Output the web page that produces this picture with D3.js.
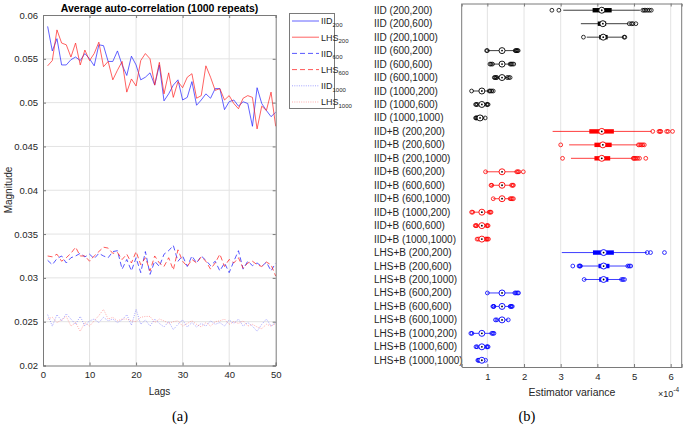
<!DOCTYPE html>
<html><head><meta charset="utf-8">
<script src="https://cdn.jsdelivr.net/npm/d3@7"></script>
<style>body{margin:0;background:#fff}svg{display:block}text{font-family:"Liberation Sans",Arial,sans-serif}</style>
</head><body>
<svg id="c" width="685" height="426"></svg>
<script>
// ---------------- Panel (a) data ----------------
const lags = d3.range(1, 51);
const iid200 = [0.0587,0.0559,0.0573,0.0543,0.0543,0.0549,0.0552,0.0548,0.0556,0.0550,0.0542,0.0566,0.0565,0.0547,0.0547,0.0559,0.0543,0.0531,0.0553,0.0543,0.0526,0.0529,0.0534,0.0520,0.0543,0.0502,0.0510,0.0520,0.0526,0.0503,0.0506,0.0524,0.0497,0.0503,0.0510,0.0505,0.0516,0.0516,0.0492,0.0501,0.0503,0.0496,0.0501,0.0499,0.0473,0.0517,0.0499,0.0491,0.0484,0.0489];
const lhs200 = [0.0542,0.0548,0.0583,0.0568,0.0566,0.0552,0.0568,0.0543,0.0560,0.0548,0.0556,0.0569,0.0541,0.0547,0.0526,0.0537,0.0547,0.0512,0.0527,0.0519,0.0548,0.0556,0.0550,0.0520,0.0546,0.0510,0.0534,0.0506,0.0524,0.0517,0.0529,0.0533,0.0505,0.0508,0.0542,0.0529,0.0514,0.0516,0.0503,0.0508,0.0499,0.0493,0.0505,0.0508,0.0506,0.0470,0.0496,0.0491,0.0512,0.0473];
const iid600 = [0.0320,0.0315,0.0322,0.0325,0.0317,0.0323,0.0325,0.0328,0.0324,0.0327,0.0322,0.0328,0.0325,0.0323,0.0330,0.0331,0.0310,0.0321,0.0308,0.0323,0.0306,0.0330,0.0304,0.0319,0.0313,0.0327,0.0331,0.0337,0.0319,0.0325,0.0313,0.0325,0.0317,0.0325,0.0320,0.0314,0.0319,0.0308,0.0317,0.0306,0.0319,0.0331,0.0310,0.0319,0.0314,0.0317,0.0313,0.0318,0.0308,0.0317];
const lhs600 = [0.0325,0.0324,0.0327,0.0319,0.0323,0.0328,0.0335,0.0325,0.0325,0.0319,0.0325,0.0330,0.0335,0.0334,0.0328,0.0329,0.0321,0.0327,0.0317,0.0330,0.0315,0.0323,0.0308,0.0325,0.0317,0.0313,0.0323,0.0309,0.0332,0.0319,0.0313,0.0321,0.0317,0.0324,0.0319,0.0310,0.0317,0.0327,0.0313,0.0321,0.0317,0.0323,0.0311,0.0317,0.0319,0.0315,0.0313,0.0318,0.0315,0.0302];
const iid1000 = [0.0258,0.0245,0.0258,0.0251,0.0259,0.0253,0.0247,0.0256,0.0245,0.0251,0.0253,0.0249,0.0255,0.0251,0.0253,0.0249,0.0252,0.0258,0.0246,0.0264,0.0247,0.0252,0.0245,0.0253,0.0248,0.0244,0.0250,0.0241,0.0247,0.0252,0.0244,0.0249,0.0244,0.0248,0.0245,0.0251,0.0247,0.0249,0.0245,0.0252,0.0248,0.0253,0.0245,0.0249,0.0245,0.0239,0.0247,0.0253,0.0245,0.0249];
const lhs1000 = [0.0253,0.0255,0.0249,0.0252,0.0256,0.0245,0.0249,0.0239,0.0249,0.0245,0.0251,0.0257,0.0264,0.0253,0.0255,0.0251,0.0253,0.0253,0.0251,0.0250,0.0255,0.0256,0.0256,0.0249,0.0253,0.0251,0.0248,0.0250,0.0251,0.0245,0.0248,0.0251,0.0247,0.0244,0.0249,0.0245,0.0250,0.0251,0.0253,0.0247,0.0250,0.0248,0.0251,0.0245,0.0247,0.0244,0.0242,0.0247,0.0245,0.0248];
const seriesNames = ["IID","LHS","IID","LHS","IID","LHS"];
const seriesSubs = ["200","200","600","600","1000","1000"];
const lagTicks = [0,10,20,30,40,50];
const magTicks = [0.02,0.025,0.03,0.035,0.04,0.045,0.05,0.055,0.06];

// ---------------- Panel (b) data ----------------
const rowLabels = ["IID (200,200)","IID (200,600)","IID (200,1000)","IID (600,200)","IID (600,600)","IID (600,1000)","IID (1000,200)","IID (1000,600)","IID (1000,1000)",
 "IID+B (200,200)","IID+B (200,600)","IID+B (200,1000)","IID+B (600,200)","IID+B (600,600)","IID+B (600,1000)","IID+B (1000,200)","IID+B (600,600)","IID+B (1000,1000)",
 "LHS+B (200,200)","LHS+B (200,600)","LHS+B (200,1000)","LHS+B (600,200)","LHS+B (600,600)","LHS+B (600,1000)","LHS+B (1000,200)","LHS+B (1000,600)","LHS+B (1000,1000)"];
const whiskerLo = [3.07,3.55,3.71,1.00,1.13,1.24,0.60,0.72,0.72, 2.78,3.23,3.28,0.95,1.10,1.16,0.60,0.69,0.74, 3.03,3.50,3.64,1.00,1.16,1.23,0.58,0.69,0.74];
const q1 =        [3.87,4.01,4.05,1.37,1.38,1.38,0.83,0.83,0.78, 3.78,3.92,3.92,1.38,1.38,1.38,0.83,0.83,0.83, 3.88,4.03,4.05,1.38,1.38,1.38,0.83,0.83,0.83];
const medians =   [4.12,4.15,4.16,1.40,1.40,1.40,0.85,0.85,0.80, 4.12,4.15,4.12,1.40,1.40,1.40,0.85,0.85,0.85, 4.17,4.17,4.17,1.40,1.40,1.40,0.85,0.85,0.85];
const q3 =        [4.39,4.24,4.28,1.44,1.42,1.42,0.87,0.87,0.88, 4.45,4.39,4.35,1.42,1.42,1.42,0.87,0.87,0.87, 4.45,4.33,4.30,1.42,1.42,1.42,0.87,0.87,0.87];
const whiskerHi = [5.16,4.85,4.72,1.76,1.62,1.56,1.05,0.98,0.93, 5.48,5.10,4.98,1.80,1.66,1.62,1.08,1.00,0.98, 5.35,4.86,4.68,1.78,1.64,1.57,1.12,1.00,0.95];
const outliers = [
 [2.76,2.95,5.24,5.28,5.32,5.37,5.42,5.47],
 [4.87,4.93,4.97,5.05],
 [3.62,4.73,4.75],
 [0.98,1.00,1.76,1.78,1.80,1.82,1.84],
 [1.07,1.10,1.14,1.62,1.65,1.68,1.72],
 [1.19,1.21,1.24,1.26,1.54,1.58,1.62],
 [0.57,1.05,1.08,1.12,1.16],
 [0.68,0.70,0.73,0.98,1.00,1.02],
 [0.68,0.70,0.72,0.75,0.94],
 [5.51,5.68,5.71,5.73,5.89,5.93,6.05],
 [3.00,5.12,5.16,5.20,5.24,5.28],
 [3.05,4.98,5.00,5.03,5.06,5.10,5.15,5.32],
 [0.95,1.80,1.83,1.86,1.98],
 [1.10,1.12,1.66,1.69,1.71],
 [1.16,1.62,1.65,1.68,1.71],
 [0.57,0.60,1.05,1.08,1.10],
 [0.67,0.69,0.71,0.98,1.00,1.02],
 [0.72,0.76,0.95,0.98,1.00,1.03],
 [5.36,5.45,5.83],
 [3.33,3.50,3.52,3.54,4.83,4.87,4.91],
 [3.64,4.66,4.70,4.74],
 [1.00,1.75,1.78,1.82,1.85],
 [1.15,1.17,1.18,1.62,1.64,1.66,1.68],
 [1.22,1.26,1.57],
 [0.55,0.58,1.12,1.15,1.18],
 [0.69,0.72,0.98,1.00,1.02],
 [0.74,0.76,0.78,0.95]
];
const varTicks = [1,2,3,4,5,6];

// ---------------- drawing ----------------
const svg = d3.select("#c");
svg.append("rect").attr("width",685).attr("height",426).attr("fill","#fff");
const axisCol = "#7a7a7a", txtCol = "#262626", gridCol = "#e3e3e3";

// ===== Panel (a) =====
const xL = d3.scaleLinear().domain([0,50]).range([43,275.7]);
const yL = d3.scaleLinear().domain([0.02,0.06]).range([365.5,15]);
const gA = svg.append("g");
gA.selectAll(".vg").data(lagTicks.slice(1,-1)).join("line")
  .attr("x1",d=>xL(d)).attr("x2",d=>xL(d)).attr("y1",yL(0.02)).attr("y2",yL(0.06))
  .attr("stroke",gridCol).attr("stroke-width",1);
gA.selectAll(".hg").data(magTicks.slice(1,-1)).join("line")
  .attr("x1",xL(0)).attr("x2",xL(50)).attr("y1",d=>yL(d)).attr("y2",d=>yL(d))
  .attr("stroke",gridCol).attr("stroke-width",1);

const seriesData = [iid200, lhs200, iid600, lhs600, iid1000, lhs1000];
const sColor = ["#2020ff","#ff2020","#2020ff","#ff2020","#4a4aff","#ff4a4a"];
const sOpac = [0.7,0.7,0.75,0.75,0.5,0.45];
const sDash = [null,null,"5,3","5,3","1,1.3","1,1.3"];
const line = d3.line().x((d,i)=>xL(lags[i])).y(d=>yL(d));
seriesData.forEach((s,k)=>{
  gA.append("path").attr("d",line(s)).attr("fill","none")
    .attr("stroke",sColor[k]).attr("stroke-opacity",sOpac[k]).attr("stroke-width",1)
    .attr("stroke-dasharray",sDash[k]);
});

// axes (a)
const axLB = d3.axisBottom(xL).tickValues(lagTicks).tickSize(-3).tickPadding(6).tickFormat(d3.format("d"));
const axLL = d3.axisLeft(yL).tickValues(magTicks).tickSize(-3).tickPadding(5).tickFormat(d3.format(".3~f"));
const gx = gA.append("g").attr("transform",`translate(0,${yL(0.02)})`).call(axLB);
const gy = gA.append("g").attr("transform",`translate(${xL(0)},0)`).call(axLL);
gA.append("g").attr("transform",`translate(0,${yL(0.06)})`).call(d3.axisTop(xL).tickValues(lagTicks).tickSize(-3).tickFormat(""));
gA.append("g").attr("transform",`translate(${xL(50)},0)`).call(d3.axisRight(yL).tickValues(magTicks).tickSize(-3).tickFormat(""));
gA.selectAll(".domain").attr("stroke",axisCol);
gA.selectAll(".tick line").attr("stroke",axisCol);
gA.selectAll(".tick text").attr("fill",txtCol).attr("font-size",9.5).attr("font-family","Liberation Sans, Arial, sans-serif");

gA.append("text").attr("x",159.5).attr("y",11.5).attr("text-anchor","middle")
  .attr("font-size",10.5).attr("font-weight","bold").attr("fill","#000")
  .text("Average auto-correlation (1000 repeats)");
gA.append("text").attr("x",159.5).attr("y",394.5).attr("text-anchor","middle")
  .attr("font-size",10).attr("fill",txtCol).text("Lags");
gA.append("text").attr("transform","translate(12,190) rotate(-90)").attr("text-anchor","middle")
  .attr("font-size",10).attr("fill",txtCol).text("Magnitude");
gA.append("text").attr("x",180).attr("y",421).attr("text-anchor","middle")
  .attr("font-size",14.5).attr("fill","#000").style("font-family","Liberation Serif, Times New Roman, serif").text("(a)");

// legend
const lg = gA.append("g");
lg.append("rect").attr("x",289.5).attr("y",13.5).attr("width",45).attr("height",95)
  .attr("fill","#fff").attr("stroke",axisCol).attr("stroke-width",1);
seriesNames.forEach((n,k)=>{
  const yy = 21 + k*16.2;
  lg.append("line").attr("x1",292).attr("x2",319).attr("y1",yy).attr("y2",yy)
    .attr("stroke",sColor[k]).attr("stroke-opacity",sOpac[k]).attr("stroke-width",1)
    .attr("stroke-dasharray",sDash[k]);
  const t = lg.append("text").attr("x",321).attr("y",yy+3.3).attr("font-size",9).attr("fill",txtCol);
  t.append("tspan").text(n);
  t.append("tspan").attr("font-size",6).attr("dy",2.5).text(seriesSubs[k]);
});

// ===== Panel (b) =====
const xR = d3.scaleLinear().domain([0.3,6.3]).range([461.7,681.7]);
const yR = d3.scaleLinear().domain([0.5,27.5]).range([3.5,367]);
const gB = svg.append("g");
gB.selectAll(".vg").data(varTicks).join("line")
  .attr("x1",d=>xR(d)).attr("x2",d=>xR(d)).attr("y1",yR(0.5)).attr("y2",yR(27.5))
  .attr("stroke",gridCol).attr("stroke-width",1);

const colorOf = l => l.startsWith("IID+B") ? "#ff0000" : (l.startsWith("LHS") ? "#0000ff" : "#000000");
rowLabels.forEach((lab,i)=>{
  const c = colorOf(lab), y = yR(i+1);
  const g = gB.append("g");
  g.append("line").attr("x1",xR(whiskerLo[i])).attr("x2",xR(whiskerHi[i])).attr("y1",y).attr("y2",y)
    .attr("stroke",c).attr("stroke-width",0.9).attr("stroke-opacity",0.85);
  g.append("rect").attr("x",xR(q1[i])).attr("width",xR(q3[i])-xR(q1[i])).attr("y",y-2.2).attr("height",4.4).attr("fill",c);
  g.selectAll("circle.o").data(outliers[i]).join("circle")
    .attr("cx",d=>xR(d)).attr("cy",y).attr("r",1.9).attr("fill","none").attr("stroke",c).attr("stroke-width",0.8);
  g.append("circle").attr("cx",xR(medians[i])).attr("cy",y).attr("r",3).attr("fill","#fff").attr("stroke",c).attr("stroke-width",0.9);
  g.append("circle").attr("cx",xR(medians[i])).attr("cy",y).attr("r",0.9).attr("fill","#000");
  gB.append("text").attr("x",374).attr("y",y+3.5).attr("font-size",10).attr("fill",txtCol).text(lab);
});

const axRB = d3.axisBottom(xR).tickValues(varTicks).tickSize(-3).tickPadding(6).tickFormat(d3.format("d"));
gB.append("g").attr("transform",`translate(0,${yR(27.5)})`).call(axRB);
gB.append("g").attr("transform",`translate(0,${yR(0.5)})`).call(d3.axisTop(xR).tickValues(varTicks).tickSize(-3).tickFormat(""));
gB.append("line").attr("x1",xR(0.3)).attr("x2",xR(0.3)).attr("y1",yR(0.5)).attr("y2",yR(27.5)).attr("stroke",axisCol);
gB.append("line").attr("x1",xR(6.3)).attr("x2",xR(6.3)).attr("y1",yR(0.5)).attr("y2",yR(27.5)).attr("stroke",axisCol);
gB.selectAll(".domain").attr("stroke",axisCol);
gB.selectAll(".tick line").attr("stroke",axisCol);
gB.selectAll(".tick text").attr("fill",txtCol).attr("font-size",9.5).attr("font-family","Liberation Sans, Arial, sans-serif");

gB.append("text").attr("x",572).attr("y",396).attr("text-anchor","middle")
  .attr("font-size",10.5).attr("fill",txtCol).text("Estimator variance");
const ex = gB.append("text").attr("x",658).attr("y",397).attr("font-size",9).attr("fill",txtCol);
ex.append("tspan").text("\u00d710");
ex.append("tspan").attr("font-size",6.5).attr("dy",-5).text("-4");
gB.append("text").attr("x",527).attr("y",421).attr("text-anchor","middle")
  .attr("font-size",14.5).attr("fill","#000").style("font-family","Liberation Serif, Times New Roman, serif").text("(b)");
</script>
</body></html>
